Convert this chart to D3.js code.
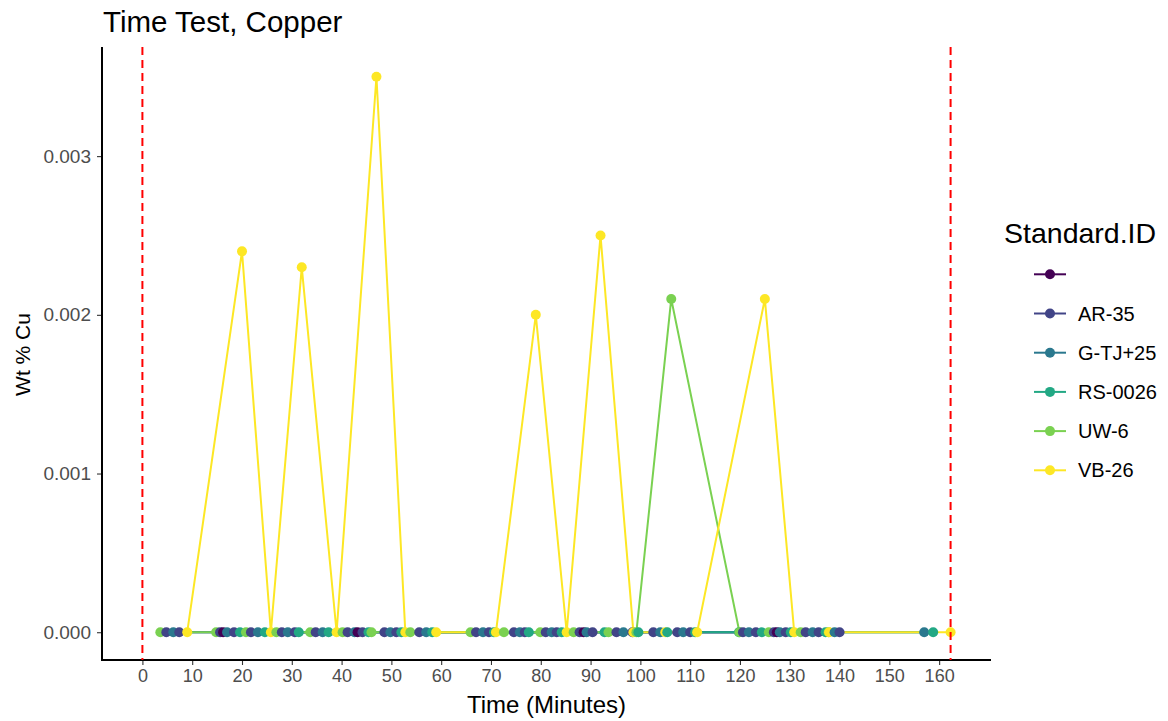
<!DOCTYPE html>
<html>
<head>
<meta charset="utf-8">
<script src="https://cdn.jsdelivr.net/npm/d3@7"></script>
<style>
  html, body { margin: 0; padding: 0; background: #fff; }
  svg { display: block; font-family: "Liberation Sans", Arial, sans-serif; }
</style>
</head>
<body>
<svg id="chart" width="1168" height="721"></svg>
<script>
// Standard IDs in legend order (first level is a blank ID)
const standards = ["", "AR-35", "G-TJ+25", "RS-0026", "UW-6", "VB-26"];
const colors = ["#440154", "#414487", "#2A788E", "#22A884", "#7AD151", "#FDE725"];

// Measurements: [time in minutes, wt % Cu]
const blankID = [[16.2, 0], [43.2, 0], [88.6, 0], [127.4, 0]];
const ar35 = [[4.8, 0], [7.4, 0], [15.6, 0], [18.4, 0], [21.8, 0], [28.0, 0], [30.6, 0], [34.8, 0],
  [41.2, 0], [44.2, 0], [48.6, 0], [51.0, 0], [55.6, 0], [67.0, 0], [69.6, 0], [74.6, 0],
  [76.8, 0], [81.0, 0], [83.2, 0], [87.8, 0], [90.4, 0], [95.2, 0], [98.4, 0], [102.6, 0],
  [107.4, 0], [110.0, 0], [120.6, 0], [123.2, 0], [126.8, 0], [129.2, 0], [133.2, 0], [135.8, 0], [140.0, 0]];
const gtj25 = [[6.2, 0], [17.0, 0], [23.2, 0], [29.2, 0], [36.2, 0], [42.6, 0], [49.8, 0], [57.0, 0],
  [68.4, 0], [75.8, 0], [82.2, 0], [89.2, 0], [96.6, 0], [104.0, 0], [108.6, 0], [121.8, 0],
  [128.0, 0], [134.6, 0], [139.0, 0], [157.0, 0]];
const rs0026 = [[19.6, 0], [24.6, 0], [31.4, 0], [37.4, 0], [45.4, 0], [52.0, 0], [58.2, 0], [70.6, 0],
  [77.6, 0], [84.2, 0], [92.8, 0], [99.6, 0], [105.4, 0], [111.0, 0], [119.8, 0], [124.4, 0],
  [130.2, 0], [137.2, 0], [158.8, 0]];
const uw6 = [[3.6, 0], [14.8, 0], [20.8, 0], [26.9, 0], [33.7, 0], [40.2, 0], [46.0, 0], [53.8, 0],
  [65.9, 0], [72.6, 0], [79.9, 0], [86.6, 0], [93.6, 0], [99.2, 0], [106.2, 0.0021], [119.9, 0],
  [125.8, 0], [132.2, 0], [137.8, 0]];
const vb26 = [[9, 0], [20, 0.0024], [25.8, 0], [32, 0.0023], [39, 0], [47, 0.0035], [52.8, 0], [59, 0],
  [71, 0], [79, 0.002], [85.2, 0], [92, 0.0025], [98.6, 0], [105, 0], [111.4, 0], [125, 0.0021],
  [130.9, 0], [137.9, 0], [162.3, 0]];
const seriesValues = [blankID, ar35, gtj25, rs0026, uw6, vb26];

// Run window markers
const markerTimes = [0, 162.3];

const xTicks = [0, 10, 20, 30, 40, 50, 60, 70, 80, 90, 100, 110, 120, 130, 140, 150, 160];
const yTicks = [0, 0.001, 0.002, 0.003];

const svg = d3.select("#chart");
const margin = { left: 102, right: 177, top: 49, bottom: 61 };
const W = 1168, H = 721;

const xDom = [0, 162.3];
const xPad = (xDom[1] - xDom[0]) * 0.05;
const x = d3.scaleLinear().domain([xDom[0] - xPad, xDom[1] + xPad]).range([margin.left, W - margin.right]);
const yDom = [0, 0.0035];
const yPad = (yDom[1] - yDom[0]) * 0.05;
const y = d3.scaleLinear().domain([yDom[0] - yPad, yDom[1] + yPad]).range([H - margin.bottom, margin.top]);

const color = d3.scaleOrdinal().domain(standards).range(colors);

const series = standards.map((id, i) => ({ id, values: seriesValues[i].slice().sort((a, b) => a[0] - b[0]) }));

// Axes
const xAxis = d3.axisBottom(x).tickValues(xTicks).tickSize(5).tickPadding(4).tickFormat(d3.format("d"));
const gx = svg.append("g").attr("transform", `translate(0,${H - margin.bottom})`).call(xAxis);
const yAxis = d3.axisLeft(y).tickValues(yTicks).tickSize(5).tickPadding(6).tickFormat(d3.format(".3f"));
const gy = svg.append("g").attr("transform", `translate(${margin.left},0)`).call(yAxis);
[gx, gy].forEach(g => {
  g.select(".domain").remove();
  g.selectAll(".tick line").attr("stroke", "#333").attr("stroke-width", 1.1);
  g.selectAll(".tick text").attr("fill", "#4D4D4D").style("font-size", "18px");
});
gy.selectAll(".tick text").style("font-size", "19px");
svg.append("line").attr("x1", margin.left).attr("x2", margin.left)
  .attr("y1", margin.top - 2).attr("y2", H - margin.bottom + 1).attr("stroke", "#000").attr("stroke-width", 2);
svg.append("line").attr("x1", margin.left - 1).attr("x2", W - margin.right)
  .attr("y1", H - margin.bottom).attr("y2", H - margin.bottom).attr("stroke", "#000").attr("stroke-width", 2);

// Series lines, then points in time order
const line = d3.line().x(d => x(d[0])).y(d => y(d[1]));
svg.append("g").selectAll("path").data(series).join("path")
  .attr("d", s => line(s.values))
  .attr("fill", "none")
  .attr("stroke", s => color(s.id))
  .attr("stroke-width", 2);

const allPoints = series.flatMap(s => s.values.map(v => ({ id: s.id, t: v[0], v: v[1] })))
  .sort((a, b) => a.t - b.t);
svg.append("g").selectAll("circle").data(allPoints).join("circle")
  .attr("cx", d => x(d.t)).attr("cy", d => y(d.v)).attr("r", 5)
  .attr("fill", d => color(d.id));

// Dashed run window markers
svg.append("g").selectAll("line").data(markerTimes).join("line")
  .attr("x1", d => x(d)).attr("x2", d => x(d))
  .attr("y1", margin.top - 2).attr("y2", H - margin.bottom)
  .attr("stroke", "#FF0000").attr("stroke-width", 2).attr("stroke-dasharray", "8,5");

// Titles
svg.append("text").attr("x", 103).attr("y", 32).text("Time Test, Copper")
  .style("font-size", "29.5px").attr("fill", "#000");
svg.append("text").attr("x", (margin.left + W - margin.right) / 2).attr("y", 713)
  .attr("text-anchor", "middle").text("Time (Minutes)").style("font-size", "24px");
svg.append("text").attr("transform", `translate(30,${(margin.top + H - margin.bottom) / 2}) rotate(-90)`)
  .attr("text-anchor", "middle").text("Wt % Cu").style("font-size", "21px");

// Legend
const lg = svg.append("g");
lg.append("text").attr("x", 1004).attr("y", 243).text("Standard.ID").style("font-size", "28.5px");
const items = lg.selectAll("g.item").data(standards).join("g").attr("class", "item")
  .attr("transform", (d, i) => `translate(0,${274.3 + i * 39.2})`);
items.append("line").attr("x1", 1034).attr("x2", 1066).attr("stroke", d => color(d)).attr("stroke-width", 2);
items.append("circle").attr("cx", 1050).attr("r", 5).attr("fill", d => color(d));
items.append("text").attr("x", 1078).attr("y", 7).text(d => d).style("font-size", "20px");
</script>
</body>
</html>
